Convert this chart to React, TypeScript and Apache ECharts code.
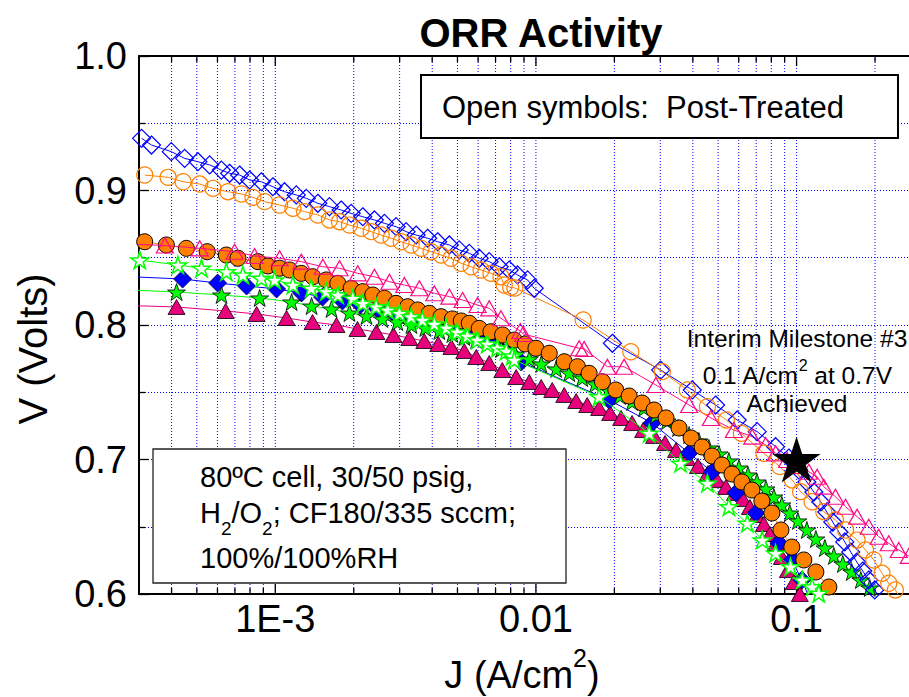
import React, { useEffect, useRef } from 'react';
import * as echarts from 'echarts';

const FONT = '"Liberation Sans", Arial, Helvetica, sans-serif';
const X_MIN = 3e-4;
const X_MAX = 0.27;
const Y_MIN = 0.6;
const Y_MAX = 1.0;

const xMajorTicks = [0.001, 0.01, 0.1];
const xTickLabels = ['1E-3', '0.01', '0.1'];
const xMinorTicks = [
  4e-4, 5e-4, 6e-4, 7e-4, 8e-4, 9e-4,
  0.002, 0.003, 0.004, 0.005, 0.006, 0.007, 0.008, 0.009,
  0.02, 0.03, 0.04, 0.05, 0.06, 0.07, 0.08, 0.09,
  0.2,
];

// Post-treated (open symbols)
const openDiamondJ = [3.07e-4, 3.35e-4, 3.99e-4, 4.49e-4, 5.05e-4, 5.60e-4, 6.21e-4, 6.68e-4, 7.30e-4, 7.97e-4, 8.84e-4, 9.79e-4, 1.085e-3, 1.204e-3, 1.315e-3, 1.456e-3, 1.614e-3, 1.790e-3, 1.955e-3, 2.166e-3, 2.401e-3, 2.623e-3, 2.907e-3, 3.176e-3, 3.47e-3, 3.843e-3, 4.198e-3, 4.654e-3, 5.08e-3, 5.55e-3, 6.06e-3, 6.62e-3, 7.23e-3, 7.90e-3, 8.50e-3, 9.29e-3, 9.85e-3, 0.01965, 0.0301, 0.0398, 0.0489, 0.0592, 0.0706, 0.0831, 0.0934, 0.1020, 0.1095, 0.1165, 0.1239, 0.1306, 0.1377, 0.1453, 0.1531, 0.1614, 0.1702, 0.1795, 0.1892, 0.1995, 0.2085];
const openDiamondV = [0.9388, 0.9338, 0.9289, 0.9239, 0.9214, 0.9190, 0.9152, 0.9128, 0.9115, 0.9078, 0.9065, 0.9028, 0.8991, 0.8967, 0.8942, 0.8905, 0.8880, 0.8855, 0.8830, 0.8805, 0.8781, 0.8756, 0.8731, 0.8694, 0.8669, 0.8645, 0.8619, 0.8595, 0.8558, 0.8533, 0.8496, 0.8471, 0.8433, 0.8409, 0.8372, 0.8335, 0.8273, 0.7864, 0.7665, 0.7517, 0.7405, 0.7294, 0.7207, 0.7095, 0.7011, 0.6922, 0.6833, 0.6758, 0.6684, 0.6610, 0.6535, 0.6461, 0.6387, 0.6312, 0.6238, 0.6171, 0.6104, 0.6030, 0.5970];

const openCircleJ = [3.155e-4, 3.88e-4, 4.43e-4, 5.13e-4, 5.77e-4, 6.58e-4, 7.41e-4, 8.21e-4, 9.10e-4, 1.039e-3, 1.168e-3, 1.295e-3, 1.456e-3, 1.614e-3, 1.764e-3, 1.926e-3, 2.136e-3, 2.332e-3, 2.547e-3, 2.782e-3, 3.04e-3, 3.32e-3, 3.625e-3, 3.96e-3, 4.325e-3, 4.724e-3, 5.16e-3, 5.64e-3, 6.16e-3, 6.72e-3, 7.34e-3, 7.56e-3, 8.0e-3, 8.3e-3, 0.01518, 0.02312, 0.03055, 0.0381, 0.0455, 0.0538, 0.0614, 0.0749, 0.0863, 0.0962, 0.1036, 0.1147, 0.1272, 0.1410, 0.1541, 0.1707, 0.1838, 0.1978, 0.2128, 0.2258, 0.2394, 0.2466];
const openCircleV = [0.9115, 0.9098, 0.9065, 0.9048, 0.9016, 0.8991, 0.8974, 0.8949, 0.8917, 0.8892, 0.8868, 0.8843, 0.8818, 0.8781, 0.8768, 0.8743, 0.8719, 0.8694, 0.8669, 0.8645, 0.8619, 0.8595, 0.8570, 0.8545, 0.8520, 0.8496, 0.8459, 0.8433, 0.8409, 0.8384, 0.8359, 0.8297, 0.8280, 0.8275, 0.8037, 0.7801, 0.7653, 0.7517, 0.7393, 0.7294, 0.7195, 0.7046, 0.6947, 0.6848, 0.6761, 0.6686, 0.6612, 0.6550, 0.6476, 0.6401, 0.6327, 0.6253, 0.6154, 0.6080, 0.6030, 0.5985];

const openTriangleJ = [2.9e-4, 3.77e-4, 5.13e-4, 6.98e-4, 8.33e-4, 1.039e-3, 1.258e-3, 1.522e-3, 1.764e-3, 2.073e-3, 2.401e-3, 2.741e-3, 3.129e-3, 3.572e-3, 4.076e-3, 4.654e-3, 5.233e-3, 5.97e-3, 6.62e-3, 7.34e-3, 8.71e-3, 8.94e-3, 0.01465, 0.01531, 0.01880, 0.02179, 0.02884, 0.0387, 0.0469, 0.0575, 0.0676, 0.0761, 0.0831, 0.0920, 0.1020, 0.1115, 0.1199, 0.1272, 0.1410, 0.1541, 0.1707, 0.1892, 0.2066, 0.2258, 0.2466, 0.2694];
const openTriangleV = [0.8600, 0.8591, 0.8570, 0.8545, 0.8513, 0.8496, 0.8471, 0.8433, 0.8422, 0.8384, 0.8359, 0.8322, 0.8297, 0.8273, 0.8236, 0.8211, 0.8186, 0.8149, 0.8124, 0.8050, 0.7955, 0.7933, 0.7827, 0.7822, 0.7690, 0.7690, 0.7554, 0.7405, 0.7309, 0.7219, 0.7170, 0.7108, 0.7046, 0.6996, 0.6952, 0.6909, 0.6872, 0.6798, 0.6723, 0.6649, 0.6575, 0.6500, 0.6426, 0.6377, 0.6327, 0.6283];

const openStarJ = [2.8e-4, 3.02e-4, 4.23e-4, 5.21e-4, 6.49e-4, 7.51e-4, 8.84e-4, 9.94e-4, 1.168e-3, 1.373e-3, 1.568e-3, 1.737e-3, 1.983e-3, 2.166e-3, 2.437e-3, 2.70e-3, 2.995e-3, 3.32e-3, 3.67e-3, 4.076e-3, 4.53e-3, 4.99e-3, 5.455e-3, 5.96e-3, 6.51e-3, 7.11e-3, 7.69e-3, 8.11e-3, 8.26e-3, 0.01748, 0.0272, 0.0359, 0.0455, 0.0550, 0.0647, 0.0738, 0.0831, 0.0948, 0.1051, 0.1147, 0.1217];
const openStarV = [0.8490, 0.8483, 0.8446, 0.8422, 0.8396, 0.8372, 0.8347, 0.8335, 0.8297, 0.8273, 0.8248, 0.8223, 0.8199, 0.8161, 0.8136, 0.8112, 0.8087, 0.8062, 0.8037, 0.8007, 0.7978, 0.7948, 0.7918, 0.7888, 0.7859, 0.7829, 0.7807, 0.7770, 0.7740, 0.7467, 0.7195, 0.6972, 0.6823, 0.6649, 0.6526, 0.6401, 0.6303, 0.6203, 0.6104, 0.6054, 0.6005];

// As-made (filled symbols)
const filledCircleJ = [3.155e-4, 3.82e-4, 4.56e-4, 5.48e-4, 6.49e-4, 7.19e-4, 8.58e-4, 9.37e-4, 1.039e-3, 1.134e-3, 1.258e-3, 1.393e-3, 1.568e-3, 1.737e-3, 1.955e-3, 2.166e-3, 2.365e-3, 2.623e-3, 2.907e-3, 3.221e-3, 3.519e-3, 3.90e-3, 4.325e-3, 4.78e-3, 5.17e-3, 5.55e-3, 6.06e-3, 6.72e-3, 7.45e-3, 8.26e-3, 9.10e-3, 0.01000, 0.01125, 0.01284, 0.01443, 0.0160, 0.0180, 0.02025, 0.02278, 0.02555, 0.02840, 0.03156, 0.0354, 0.0394, 0.0434, 0.0474, 0.0517, 0.0565, 0.0617, 0.0674, 0.0736, 0.0804, 0.0871, 0.0959, 0.1066, 0.1186, 0.1330, 0.1427];
const filledCircleV = [0.8619, 0.8595, 0.8570, 0.8545, 0.8520, 0.8496, 0.8471, 0.8439, 0.8422, 0.8409, 0.8384, 0.8359, 0.8335, 0.8310, 0.8273, 0.8248, 0.8223, 0.8199, 0.8161, 0.8136, 0.8112, 0.8087, 0.8062, 0.8045, 0.8030, 0.8013, 0.7975, 0.7950, 0.7926, 0.7888, 0.7859, 0.7827, 0.7790, 0.7727, 0.7690, 0.7641, 0.7578, 0.7517, 0.7472, 0.7420, 0.7368, 0.7309, 0.7234, 0.7160, 0.7093, 0.7026, 0.6959, 0.6892, 0.6833, 0.6773, 0.6691, 0.6602, 0.6476, 0.6349, 0.6253, 0.6164, 0.6052, 0.5978];

const filledDiamondJ = [2.7e-4, 4.41e-4, 6.01e-4, 7.76e-4, 1.012e-3, 1.261e-3, 1.518e-3, 1.81e-3, 2.12e-3, 2.466e-3, 2.84e-3, 3.27e-3, 3.73e-3, 4.26e-3, 4.86e-3, 5.55e-3, 6.28e-3, 7.05e-3, 7.90e-3, 8.78e-3, 0.0191, 0.0279, 0.0387, 0.0474, 0.0585, 0.0698, 0.0855, 0.0959, 0.1048, 0.1115];
const filledDiamondV = [0.8360, 0.8342, 0.8312, 0.8290, 0.8268, 0.8238, 0.8208, 0.8178, 0.8149, 0.8119, 0.8089, 0.8059, 0.8030, 0.8000, 0.7963, 0.7926, 0.7888, 0.7851, 0.7799, 0.7725, 0.7442, 0.7271, 0.7048, 0.6907, 0.6751, 0.6602, 0.6379, 0.6253, 0.6104, 0.5978];

const filledStarJ = [2.7e-4, 4.18e-4, 6.22e-4, 8.71e-4, 1.155e-3, 1.378e-3, 1.643e-3, 1.926e-3, 2.238e-3, 2.576e-3, 2.94e-3, 3.33e-3, 3.765e-3, 4.26e-3, 4.78e-3, 5.31e-3, 5.90e-3, 6.51e-3, 7.36e-3, 8.33e-3, 9.43e-3, 0.01048, 0.01196, 0.01342, 0.01505, 0.01687, 0.01892, 0.02104, 0.02339, 0.0260, 0.0289, 0.03185, 0.0351, 0.0387, 0.0422, 0.0461, 0.0504, 0.0550, 0.0601, 0.0651, 0.0705, 0.0763, 0.0818, 0.0878, 0.0942, 0.1012, 0.1095, 0.1186, 0.1284, 0.1390, 0.1505, 0.1628, 0.1764, 0.1909, 0.2066];
const filledStarV = [0.8262, 0.8245, 0.8223, 0.8201, 0.8171, 0.8141, 0.8119, 0.8089, 0.8067, 0.8045, 0.8022, 0.8000, 0.7978, 0.7955, 0.7933, 0.7911, 0.7888, 0.7859, 0.7822, 0.7784, 0.7747, 0.7710, 0.7673, 0.7643, 0.7606, 0.7561, 0.7517, 0.7472, 0.7428, 0.7383, 0.7331, 0.7286, 0.7234, 0.7182, 0.7138, 0.7086, 0.7041, 0.6989, 0.6937, 0.6885, 0.6833, 0.6781, 0.6721, 0.6662, 0.6602, 0.6543, 0.6476, 0.6409, 0.6342, 0.6283, 0.6223, 0.6164, 0.6104, 0.6045, 0.5978];

const filledTriangleJ = [2.7e-4, 4.18e-4, 6.45e-4, 8.48e-4, 1.105e-3, 1.390e-3, 1.717e-3, 2.067e-3, 2.444e-3, 2.84e-3, 3.27e-3, 3.73e-3, 4.22e-3, 4.74e-3, 5.31e-3, 5.90e-3, 6.62e-3, 7.43e-3, 8.40e-3, 9.43e-3, 0.01048, 0.01155, 0.01284, 0.01427, 0.01573, 0.01748, 0.01926, 0.02123, 0.02339, 0.02577, 0.02840, 0.03129, 0.03448, 0.03800, 0.04185, 0.04572, 0.04951, 0.05359, 0.0580, 0.0623, 0.0662, 0.0705, 0.0749, 0.0790, 0.0833, 0.0878, 0.0926, 0.0976, 0.1029];
const filledTriangleV = [0.8145, 0.8134, 0.8104, 0.8082, 0.8052, 0.8022, 0.8000, 0.7970, 0.7948, 0.7926, 0.7903, 0.7881, 0.7859, 0.7836, 0.7807, 0.7762, 0.7717, 0.7665, 0.7613, 0.7576, 0.7539, 0.7517, 0.7480, 0.7435, 0.7405, 0.7383, 0.7346, 0.7309, 0.7271, 0.7219, 0.7175, 0.7123, 0.7071, 0.7011, 0.6952, 0.6900, 0.6848, 0.6796, 0.6751, 0.6706, 0.6647, 0.6587, 0.6520, 0.6446, 0.6379, 0.6275, 0.6178, 0.6089, 0.6000];

const milestonePoint = [0.1, 0.7];

const BLUE = '#0000ff';
const ORANGE = '#ff8000';
const PINK = '#ff0a84';
const PINK_FILL = '#e8007c';
const GREEN = '#00ff00';

const STAR = 'path://M50,0L61.2,34.5L97.6,34.5L68.2,55.9L79.4,90.5L50,69.1L20.6,90.5L31.8,55.9L2.4,34.5L38.8,34.5Z';

const zip = (j: number[], v: number[]) => {
  const n = Math.min(j.length, v.length);
  const out: number[][] = [];
  for (let i = 0; i < n; i++) out.push([j[i], v[i]]);
  return out;
};

const GRID_LINE = { color: BLUE, width: 1, type: [1, 2] as any };

function makeLine(data: number[][], symbol: string, size: any, color: string, item: any, z = 3) {
  return {
    type: 'line',
    data,
    symbol,
    symbolSize: size,
    showSymbol: true,
    lineStyle: { color, width: 1 },
    itemStyle: { opacity: 1, ...item },
    z,
    silent: true,
    clip: true,
    emphasis: { disabled: true },
  };
}

function fmtX(v: number) {
  for (let i = 0; i < xMajorTicks.length; i++) {
    if (Math.abs(Math.log10(v) - Math.log10(xMajorTicks[i])) < 1e-6) return xTickLabels[i];
  }
  return '';
}

function buildOption(): any {
  const xGridData = [
    ...xMinorTicks.map((v) => [v, 0.8, 0]),
    ...xMajorTicks.map((v) => [v, 0.8, 1]),
  ];
  const textStyle = (size: number, extra: any = {}) => ({
    fill: '#000',
    fontSize: size,
    fontFamily: FONT,
    ...extra,
  });
  const rt = (size: number, extra: any = {}) => ({
    fill: '#000',
    color: '#000',
    fontSize: size,
    fontFamily: FONT,
    ...extra,
  });

  return {
    animation: false,
    backgroundColor: '#ffffff',
    grid: { left: 139, top: 56, right: 0, bottom: 103, containLabel: false },
    xAxis: [
      {
        type: 'log',
        logBase: 10,
        min: X_MIN,
        max: X_MAX,
        position: 'bottom',
        axisLine: { show: true, lineStyle: { color: '#000', width: 2 } },
        axisTick: { show: false },
        minorTick: { show: false },
        splitLine: { show: false },
        minorSplitLine: { show: false },
        axisLabel: {
          show: true,
          margin: 6,
          color: '#000',
          fontSize: 38,
          fontFamily: FONT,
          formatter: fmtX,
          showMinLabel: false,
          showMaxLabel: false,
        },
      },
      {
        type: 'log',
        logBase: 10,
        min: X_MIN,
        max: X_MAX,
        position: 'top',
        axisLine: { show: true, lineStyle: { color: '#000', width: 2 } },
        axisTick: { show: false },
        axisLabel: { show: false },
        splitLine: { show: false },
      },
    ],
    yAxis: {
      type: 'value',
      min: Y_MIN,
      max: Y_MAX,
      interval: 0.1,
      axisLine: { show: true, onZero: false, lineStyle: { color: '#000', width: 2 } },
      axisTick: { show: true, inside: true, length: 10, lineStyle: { color: '#000', width: 1.3 } },
      minorTick: { show: true, splitNumber: 2, length: 6, lineStyle: { color: '#000', width: 1.3 } },
      splitLine: { show: true, lineStyle: GRID_LINE },
      minorSplitLine: { show: true, lineStyle: GRID_LINE },
      axisLabel: {
        color: '#000',
        fontSize: 38,
        fontFamily: FONT,
        margin: 12,
        formatter: (v: number) => v.toFixed(1),
      },
    },
    series: [
      {
        type: 'custom',
        xAxisIndex: 0,
        yAxisIndex: 0,
        data: xGridData,
        encode: { x: 0, y: 1 },
        clip: false,
        silent: true,
        z: 1,
        renderItem: (_params: any, api: any) => {
          const j = api.value(0);
          const major = api.value(2) === 1;
          const b = api.coord([j, Y_MIN]);
          const t = api.coord([j, Y_MAX]);
          const len = major ? 10 : 6;
          return {
            type: 'group',
            children: [
              {
                type: 'line',
                shape: { x1: b[0], y1: b[1], x2: t[0], y2: t[1] },
                style: { stroke: BLUE, lineWidth: 1, lineDash: [1, 2] },
              },
              {
                type: 'line',
                shape: { x1: b[0], y1: b[1], x2: b[0], y2: b[1] - len },
                style: { stroke: '#000', lineWidth: 1.3 },
              },
              {
                type: 'line',
                shape: { x1: t[0], y1: t[1], x2: t[0], y2: t[1] + len },
                style: { stroke: '#000', lineWidth: 1.3 },
              },
            ],
          };
        },
      },
      makeLine(zip(filledTriangleJ, filledTriangleV), 'triangle', [17, 15], PINK_FILL,
        { color: PINK_FILL, borderColor: '#000', borderWidth: 0.8 }, 3),
      makeLine(zip(filledDiamondJ, filledDiamondV), 'diamond', [18, 18], BLUE,
        { color: BLUE, borderColor: '#000033', borderWidth: 0.8 }, 3),
      makeLine(zip(filledStarJ, filledStarV), STAR, [18, 17], GREEN,
        { color: GREEN, borderColor: '#000', borderWidth: 0.8 }, 3),
      makeLine(zip(filledCircleJ, filledCircleV), 'circle', 16, ORANGE,
        { color: ORANGE, borderColor: '#000', borderWidth: 1 }, 3),
      makeLine(zip(openDiamondJ, openDiamondV), 'diamond', [18, 18], BLUE,
        { color: 'rgba(255,255,255,0)', borderColor: BLUE, borderWidth: 1.2 }, 4),
      makeLine(zip(openCircleJ, openCircleV), 'circle', 16, ORANGE,
        { color: 'rgba(255,255,255,0)', borderColor: ORANGE, borderWidth: 1.2 }, 4),
      makeLine(zip(openTriangleJ, openTriangleV), 'triangle', [17, 15], PINK,
        { color: 'rgba(255,255,255,0)', borderColor: PINK, borderWidth: 1.2 }, 4),
      makeLine(zip(openStarJ, openStarV), STAR, [18, 17], GREEN,
        { color: '#ffffff', borderColor: GREEN, borderWidth: 1.5 }, 4),
      {
        type: 'scatter',
        data: [milestonePoint],
        symbol: STAR,
        symbolSize: [48, 46],
        itemStyle: { color: '#000', opacity: 1 },
        z: 6,
        silent: true,
      },
    ],
    graphic: [
      {
        type: 'text',
        x: 541,
        y: 33,
        z: 20,
        style: textStyle(40, { text: 'ORR Activity', fontWeight: 'bold', textAlign: 'center', textVerticalAlign: 'middle', align: 'center', verticalAlign: 'middle' }),
      },
      {
        type: 'text',
        x: 33,
        y: 349,
        rotation: Math.PI / 2,
        z: 20,
        style: textStyle(40, { text: 'V (Volts)', textAlign: 'center', textVerticalAlign: 'middle', align: 'center', verticalAlign: 'middle' }),
      },
      {
        type: 'text',
        x: 522,
        y: 675,
        z: 20,
        style: {
          text: '{n|J (A/cm}{sup|2}{n|)}',
          align: 'center',
          verticalAlign: 'middle',
          textAlign: 'center',
          textVerticalAlign: 'middle',
          rich: {
            n: rt(38, { lineHeight: 60 }),
            sup: rt(25, { verticalAlign: 'top' }),
          },
        },
      },
      {
        type: 'rect',
        z: 20,
        shape: { x: 421, y: 75, width: 477, height: 63 },
        style: { fill: '#fff', stroke: '#000', lineWidth: 2 },
      },
      {
        type: 'text',
        x: 442,
        y: 107,
        z: 21,
        style: textStyle(31, { text: 'Open symbols:  Post-Treated', textAlign: 'left', textVerticalAlign: 'middle', align: 'left', verticalAlign: 'middle' }),
      },
      {
        type: 'rect',
        z: 20,
        shape: { x: 153, y: 449, width: 413, height: 134 },
        style: { fill: '#fff', stroke: '#222', lineWidth: 1.3 },
      },
      {
        type: 'text',
        x: 200,
        y: 477,
        z: 21,
        style: textStyle(29, { text: '80ºC cell, 30/50 psig,', textAlign: 'left', textVerticalAlign: 'middle', align: 'left', verticalAlign: 'middle' }),
      },
      {
        type: 'text',
        x: 200,
        y: 513,
        z: 21,
        style: {
          text: '{n|H}{s|2}{n|/O}{s|2}{n|; CF180/335 sccm;}',
          align: 'left',
          verticalAlign: 'middle',
          textAlign: 'left',
          textVerticalAlign: 'middle',
          rich: {
            n: rt(29, { lineHeight: 50 }),
            s: rt(19, { verticalAlign: 'bottom' }),
          },
        },
      },
      {
        type: 'text',
        x: 200,
        y: 558,
        z: 21,
        style: textStyle(29, { text: '100%/100%RH', textAlign: 'left', textVerticalAlign: 'middle', align: 'left', verticalAlign: 'middle' }),
      },
      {
        type: 'text',
        x: 797,
        y: 338,
        z: 21,
        style: textStyle(24.5, { text: 'Interim Milestone #3', textAlign: 'center', textVerticalAlign: 'middle', align: 'center', verticalAlign: 'middle' }),
      },
      {
        type: 'text',
        x: 797,
        y: 375,
        z: 21,
        style: {
          text: '{n|0.1 A/cm}{sup|2}{n| at 0.7V}',
          align: 'center',
          verticalAlign: 'middle',
          textAlign: 'center',
          textVerticalAlign: 'middle',
          rich: {
            n: rt(24.5, { lineHeight: 35 }),
            sup: rt(16, { verticalAlign: 'top' }),
          },
        },
      },
      {
        type: 'text',
        x: 797,
        y: 403,
        z: 21,
        style: textStyle(24.5, { text: 'Achieved', textAlign: 'center', textVerticalAlign: 'middle', align: 'center', verticalAlign: 'middle' }),
      },
    ],
  };
}

export default function App() {
  const ref = useRef<HTMLDivElement>(null);
  useEffect(() => {
    document.body.style.margin = '0';
    if (!ref.current) return;
    const chart = echarts.init(ref.current, null, { renderer: 'svg' });
    chart.setOption(buildOption());
    return () => {
      chart.dispose();
    };
  }, []);
  return (
    <div
      ref={ref}
      style={{ position: 'absolute', left: 0, top: 0, width: 909, height: 697, background: '#fff' }}
    />
  );
}
